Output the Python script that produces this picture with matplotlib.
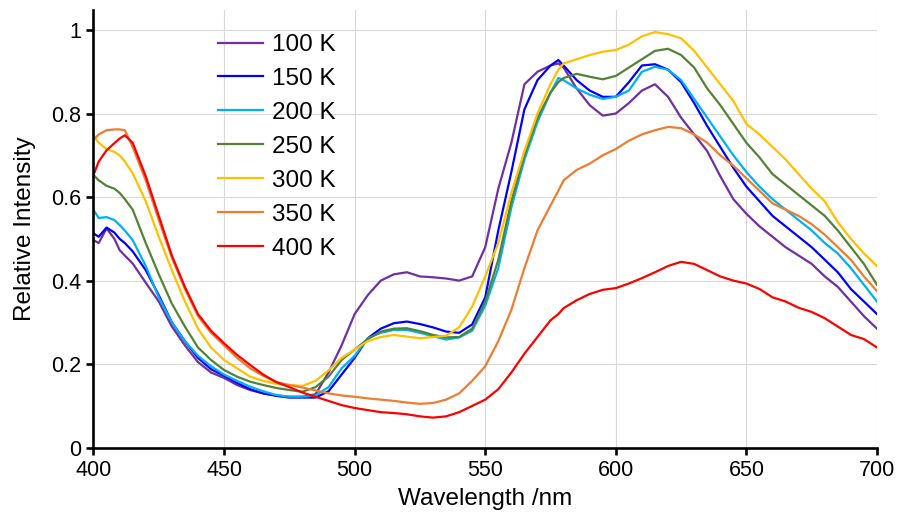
import matplotlib
matplotlib.use('Agg')
import matplotlib.pyplot as plt

plt.rcParams['font.family'] = ['Liberation Sans', 'DejaVu Sans']

# wavelength grid (nm)
wl = [400, 402, 405, 408, 410, 412, 415,
      420, 425, 430, 435, 440, 445, 450, 455, 460, 465, 470, 475, 480, 485,
      490, 495, 500, 505, 510, 515, 520, 525, 530, 535, 540, 545, 550, 555,
      560, 565, 570, 575, 578,
      580, 585, 590, 595, 600, 605, 610, 615, 620, 625, 630, 635, 640, 645,
      650, 655, 660, 665, 670, 675, 680, 685, 690, 695, 700]

k100 = [0.497, 0.49, 0.525, 0.50, 0.473, 0.46, 0.441,
        0.395, 0.35, 0.29, 0.245, 0.205, 0.18, 0.167, 0.15, 0.138, 0.13, 0.125, 0.122, 0.122, 0.128,
        0.18, 0.245, 0.32, 0.365, 0.40, 0.415, 0.42, 0.41, 0.408, 0.405, 0.40, 0.41, 0.48, 0.62,
        0.73, 0.87, 0.90, 0.915, 0.92,
        0.91, 0.86, 0.82, 0.795, 0.80, 0.825, 0.855, 0.87, 0.84, 0.79, 0.75, 0.71, 0.65, 0.595,
        0.56, 0.53, 0.505, 0.48, 0.46, 0.44, 0.41, 0.385, 0.35, 0.315, 0.285]

k150 = [0.513, 0.505, 0.527, 0.515, 0.50, 0.49, 0.47,
        0.425, 0.365, 0.30, 0.255, 0.215, 0.188, 0.172, 0.155, 0.14, 0.13, 0.124, 0.12, 0.12, 0.12,
        0.135, 0.175, 0.215, 0.262, 0.285, 0.298, 0.302, 0.296, 0.288, 0.278, 0.275, 0.295, 0.36, 0.52,
        0.66, 0.81, 0.88, 0.915, 0.928,
        0.915, 0.88, 0.855, 0.84, 0.84, 0.875, 0.915, 0.918, 0.905, 0.875, 0.825, 0.77, 0.72, 0.67,
        0.625, 0.59, 0.555, 0.53, 0.505, 0.48, 0.45, 0.42, 0.38, 0.35, 0.32]

k200 = [0.569, 0.55, 0.552, 0.545, 0.533, 0.52, 0.497,
        0.435, 0.36, 0.30, 0.255, 0.22, 0.195, 0.175, 0.16, 0.146, 0.135, 0.126, 0.122, 0.122, 0.125,
        0.145, 0.19, 0.22, 0.262, 0.275, 0.282, 0.282, 0.275, 0.267, 0.259, 0.264, 0.28, 0.34, 0.43,
        0.575, 0.69, 0.78, 0.85, 0.885,
        0.88, 0.86, 0.845, 0.835, 0.84, 0.855, 0.90, 0.912, 0.905, 0.88, 0.835, 0.79, 0.745, 0.70,
        0.66, 0.625, 0.595, 0.57, 0.545, 0.52, 0.49, 0.465, 0.43, 0.39, 0.35]

k250 = [0.653, 0.64, 0.627, 0.62, 0.61, 0.595, 0.57,
        0.49, 0.415, 0.345, 0.29, 0.24, 0.21, 0.186, 0.17, 0.158, 0.15, 0.143, 0.138, 0.134, 0.145,
        0.17, 0.21, 0.235, 0.26, 0.278, 0.285, 0.286, 0.279, 0.27, 0.264, 0.265, 0.285, 0.35, 0.45,
        0.59, 0.70, 0.79, 0.85, 0.875,
        0.885, 0.895, 0.888, 0.882, 0.89, 0.91, 0.93, 0.95, 0.955, 0.94, 0.91, 0.86, 0.82, 0.775,
        0.73, 0.695, 0.655, 0.63, 0.605, 0.58, 0.555, 0.52, 0.48, 0.44, 0.39]

k300 = [0.748, 0.73, 0.715, 0.708, 0.70, 0.685, 0.657,
        0.59, 0.505, 0.425, 0.35, 0.285, 0.24, 0.21, 0.19, 0.17, 0.16, 0.153, 0.15, 0.148, 0.16,
        0.185, 0.215, 0.235, 0.255, 0.265, 0.27, 0.266, 0.262, 0.265, 0.268, 0.288, 0.338, 0.41, 0.49,
        0.61, 0.71, 0.80, 0.87, 0.905,
        0.92, 0.93, 0.94, 0.948, 0.952, 0.965, 0.985, 0.995, 0.99, 0.98, 0.95, 0.91, 0.87, 0.83,
        0.775, 0.75, 0.72, 0.69, 0.655, 0.62, 0.59, 0.54, 0.50, 0.465, 0.435]

k350 = [0.737, 0.75, 0.76, 0.762, 0.762, 0.76, 0.72,
        0.64, 0.545, 0.455, 0.38, 0.315, 0.275, 0.245, 0.215, 0.19, 0.172, 0.157, 0.15, 0.144, 0.137,
        0.13, 0.125, 0.122, 0.118, 0.115, 0.112, 0.108, 0.105, 0.107, 0.115, 0.13, 0.16, 0.195, 0.255,
        0.33, 0.43, 0.52, 0.58, 0.615,
        0.64, 0.665, 0.68, 0.70, 0.715, 0.735, 0.75, 0.76, 0.768, 0.765, 0.75, 0.73, 0.70, 0.675,
        0.645, 0.615, 0.585, 0.57, 0.555, 0.535, 0.51, 0.48, 0.45, 0.41, 0.375]

k400 = [0.653, 0.685, 0.712, 0.729, 0.74, 0.748, 0.73,
        0.65, 0.555, 0.46, 0.385, 0.32, 0.28, 0.25, 0.222, 0.198, 0.175, 0.157, 0.145, 0.132, 0.122,
        0.112, 0.102, 0.095, 0.09, 0.085, 0.083, 0.08, 0.075, 0.072, 0.075, 0.085, 0.10, 0.115, 0.14,
        0.18, 0.225, 0.265, 0.305, 0.32,
        0.334, 0.353, 0.368, 0.378, 0.382, 0.393, 0.406, 0.42, 0.435, 0.445, 0.44, 0.425, 0.41, 0.40,
        0.393, 0.38, 0.36, 0.35, 0.335, 0.325, 0.31, 0.29, 0.27, 0.26, 0.24]

labels = ['100 K', '150 K', '200 K', '250 K', '300 K', '350 K', '400 K']
colors = ['#7030A0', '#0000FF', '#00B0F0', '#548235', '#FFC000', '#ED7D31', '#FF0000']
series = [k100, k150, k200, k250, k300, k350, k400]

fig = plt.figure(figsize=(8.99, 5.15), dpi=100)
ax = fig.add_axes([0.104, 0.1307, 0.8715, 0.850])

for y, lab, c in zip(series, labels, colors):
    ax.plot(wl, y, color=c, lw=1.6, label=lab)

ax.set_xlim(400, 700)
ax.set_ylim(0, 1.048)
ax.set_xticks([400, 450, 500, 550, 600, 650, 700])
ax.set_yticks([0, 0.2, 0.4, 0.6, 0.8, 1.0])
ax.set_yticklabels(['0', '0.2', '0.4', '0.6', '0.8', '1'])
ax.grid(True, color='#D9D9D9', lw=0.8)
ax.set_axisbelow(True)

for s in ['top', 'right']:
    ax.spines[s].set_visible(False)
for s in ['left', 'bottom']:
    ax.spines[s].set_linewidth(1.9)
ax.tick_params(direction='out', length=5, width=1.9, labelsize=15.5, pad=4)

ax.set_xlabel('Wavelength /nm', fontsize=17.5, labelpad=5)
ax.set_ylabel('Relative Intensity', fontsize=17.5, labelpad=11)

ax.legend(loc='upper left', bbox_to_anchor=(0.159, 0.945), frameon=False,
          fontsize=17.5, handlelength=1.85, handletextpad=0.35,
          labelspacing=0.49, borderpad=0, borderaxespad=0)

plt.savefig('out.png', dpi=100)
